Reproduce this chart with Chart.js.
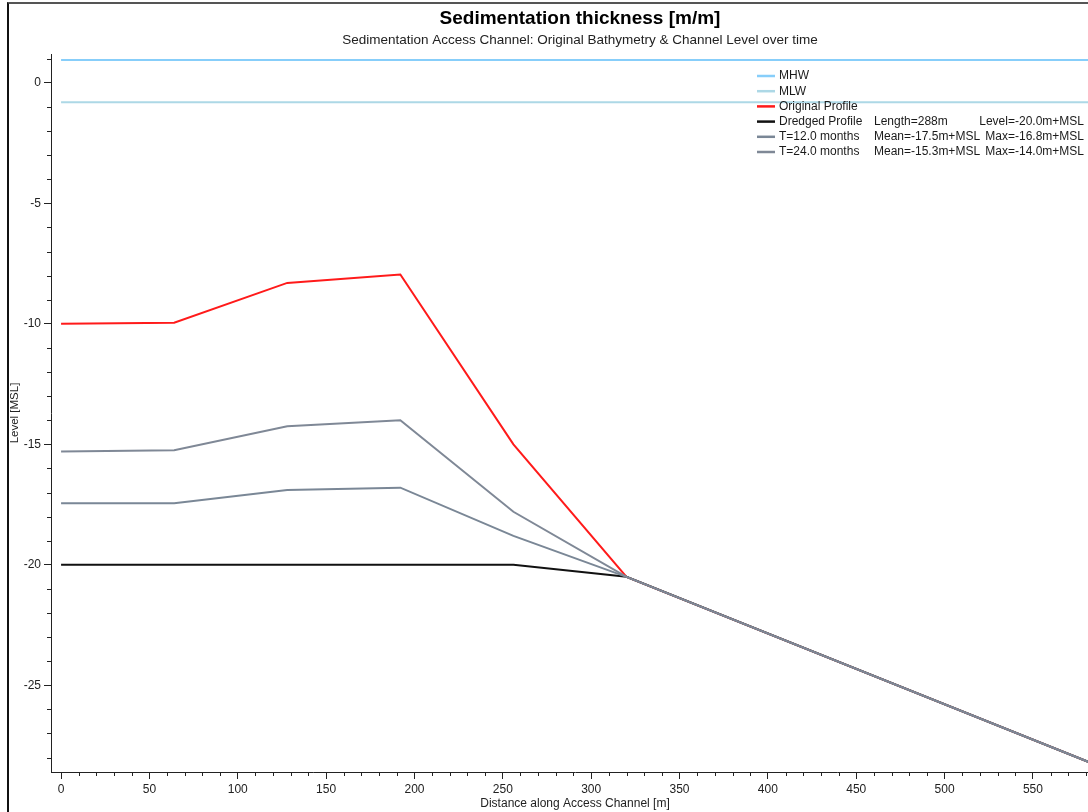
<!DOCTYPE html>
<html>
<head>
<meta charset="utf-8">
<script src="https://cdn.jsdelivr.net/npm/chart.js@4.4.1/dist/chart.umd.min.js"></script>
<style>
  html, body { margin: 0; padding: 0; background: #fff; overflow: hidden; }
  #wrap { position: relative; width: 1088px; height: 812px; overflow: hidden; }
  #chart { position: absolute; left: 0; top: 0; }
  #frame { position: absolute; left: 7px; top: 2px; right: -4px; bottom: -4px;
           border-left: 2px solid #111; border-top: 2px solid #555; pointer-events: none; }
</style>
</head>
<body>
<div id="wrap">
  <canvas id="chart" width="1160" height="812"></canvas>
  <div id="frame"></div>
</div>
<script>
// distances along channel [m]
const distance = [0, 64, 128, 192, 256, 320, 640];
const originalProfile = [-10.0, -9.95, -8.3, -7.95, -15.0, -20.5, -29.9];
const t12Profile = [-17.45, -17.45, -16.9, -16.8, -18.8, -20.5, -29.9];
const t24Profile = [-15.3, -15.25, -14.25, -14.0, -17.8, -20.5, -29.9];
const dredgedProfile = [-20.0, -20.0, -20.0, -20.0, -20.0, -20.5, -29.9];
const waterX = [0, 640];
const mhwLevel = 0.95;
const mlwLevel = -0.8;

const legendNames = ['MHW', 'MLW', 'Original Profile', 'Dredged Profile', 'T=12.0 months', 'T=24.0 months'];
const legendCol2 = ['', '', '', 'Length=288m', 'Mean=-17.5m+MSL', 'Mean=-15.3m+MSL'];
const legendCol3 = ['', '', '', 'Level=-20.0m+MSL', 'Max=-16.8m+MSL', 'Max=-14.0m+MSL'];

const xTickValues = [0, 50, 100, 150, 200, 250, 300, 350, 400, 450, 500, 550];
const yTickValues = [0, -5, -10, -15, -20, -25];

const FONT = "'Liberation Sans', Arial, sans-serif";
const colors = {
    mhw: '#87cefa',
    mlw: '#add8e6',
    original: '#ff1a1a',
    dredged: '#111111',
    t12: '#7a8796',
    t24: '#7f8896'
};

function pts(xs, ys) {
    return xs.map((x, i) => ({ x: x, y: ys[i] }));
}

// minor ticks + legend drawn on top of the chart
const extrasPlugin = {
    id: 'extras',
    afterDraw(chart) {
        const ctx = chart.ctx;
        const xs = chart.scales.x, ys = chart.scales.y;
        const area = chart.chartArea;
        ctx.save();
        ctx.strokeStyle = '#222';
        ctx.lineWidth = 1;
        ctx.beginPath();
        for (let v = 0; v <= xs.max; v += 10) {
            if (v % 50 === 0) continue;
            const px = Math.round(xs.getPixelForValue(v)) + 0.5;
            ctx.moveTo(px, area.bottom);
            ctx.lineTo(px, area.bottom + 4);
        }
        for (let v = Math.ceil(ys.min); v <= ys.max; v += 1) {
            if (v % 5 === 0) continue;
            const py = Math.round(ys.getPixelForValue(v)) + 0.5;
            ctx.moveTo(area.left, py);
            ctx.lineTo(area.left - 4, py);
        }
        ctx.stroke();

        // legend
        const lx = 757, top = 76, step = 15.2;
        ctx.font = '12px ' + FONT;
        ctx.textBaseline = 'middle';
        ctx.fillStyle = '#1a1a1a';
        chart.data.datasets.forEach((ds, i) => {
            const y = top + i * step;
            ctx.strokeStyle = ds.borderColor;
            ctx.lineWidth = 2.5;
            ctx.beginPath();
            ctx.moveTo(lx, y);
            ctx.lineTo(lx + 18, y);
            ctx.stroke();
            ctx.textAlign = 'left';
            ctx.fillText(legendNames[i], lx + 22, y);
            ctx.fillText(legendCol2[i], 874, y);
            ctx.textAlign = 'right';
            ctx.fillText(legendCol3[i], 1084, y);
        });
        ctx.restore();
    }
};

new Chart(document.getElementById('chart'), {
    type: 'line',
    data: {
        datasets: [
            { label: 'MHW', data: pts(waterX, [mhwLevel, mhwLevel]), borderColor: colors.mhw, borderWidth: 2, order: 6 },
            { label: 'MLW', data: pts(waterX, [mlwLevel, mlwLevel]), borderColor: colors.mlw, borderWidth: 2, order: 5 },
            { label: 'Original Profile', data: pts(distance, originalProfile), borderColor: colors.original, borderWidth: 2, order: 4 },
            { label: 'Dredged Profile', data: pts(distance, dredgedProfile), borderColor: colors.dredged, borderWidth: 2, order: 3 },
            { label: 'T=12.0 months', data: pts(distance, t12Profile), borderColor: colors.t12, borderWidth: 2, order: 2 },
            { label: 'T=24.0 months', data: pts(distance, t24Profile), borderColor: colors.t24, borderWidth: 2, order: 1 }
        ]
    },
    options: {
        responsive: false,
        animation: false,
        events: [],
        elements: { point: { radius: 0 }, line: { tension: 0 } },
        layout: { padding: { top: 5, left: 0, right: 0, bottom: 0 } },
        plugins: {
            legend: { display: false },
            tooltip: { enabled: false },
            title: {
                display: true,
                text: 'Sedimentation thickness [m/m]',
                color: '#000',
                font: { family: FONT, size: 19, weight: 'bold' },
                padding: { top: 2, bottom: 2 }
            },
            subtitle: {
                display: true,
                text: 'Sedimentation Access Channel: Original Bathymetry & Channel Level over time',
                color: '#222',
                font: { family: FONT, size: 13.5 },
                padding: { top: 0, bottom: 6 }
            }
        },
        scales: {
            x: {
                type: 'linear',
                min: -5.7,
                max: 587.4,
                afterBuildTicks: s => { s.ticks = xTickValues.map(v => ({ value: v })); },
                afterFit: s => { s.height = 40; },
                border: { display: true, color: '#222', width: 1 },
                grid: { drawOnChartArea: false, drawTicks: true, tickLength: 7, color: '#222' },
                ticks: { color: '#222', font: { family: FONT, size: 12 }, padding: 3, maxRotation: 0, autoSkip: false },
                title: {
                    display: true,
                    text: 'Distance along Access Channel [m]',
                    color: '#222',
                    font: { family: FONT, size: 12 },
                    padding: { top: 0, bottom: 1 }
                }
            },
            y: {
                type: 'linear',
                min: -28.6,
                max: 1.2,
                afterBuildTicks: s => { s.ticks = yTickValues.map(v => ({ value: v })); },
                afterFit: s => { s.width = 51; },
                border: { display: true, color: '#222', width: 1 },
                grid: { drawOnChartArea: false, drawTicks: true, tickLength: 7, color: '#222' },
                ticks: { color: '#222', font: { family: FONT, size: 12 }, padding: 3, autoSkip: false },
                title: {
                    display: true,
                    text: 'Level [MSL]',
                    color: '#222',
                    font: { family: FONT, size: 11.5 },
                    padding: { top: 8, bottom: 0 }
                }
            },
            // empty right margin (off screen), keeps titles centred like the original
            yRight: {
                type: 'linear',
                position: 'right',
                display: true,
                afterFit: s => { s.width = 61; },
                border: { display: false },
                grid: { display: false },
                ticks: { display: false }
            }
        }
    },
    plugins: [extrasPlugin]
});
</script>
</body>
</html>
